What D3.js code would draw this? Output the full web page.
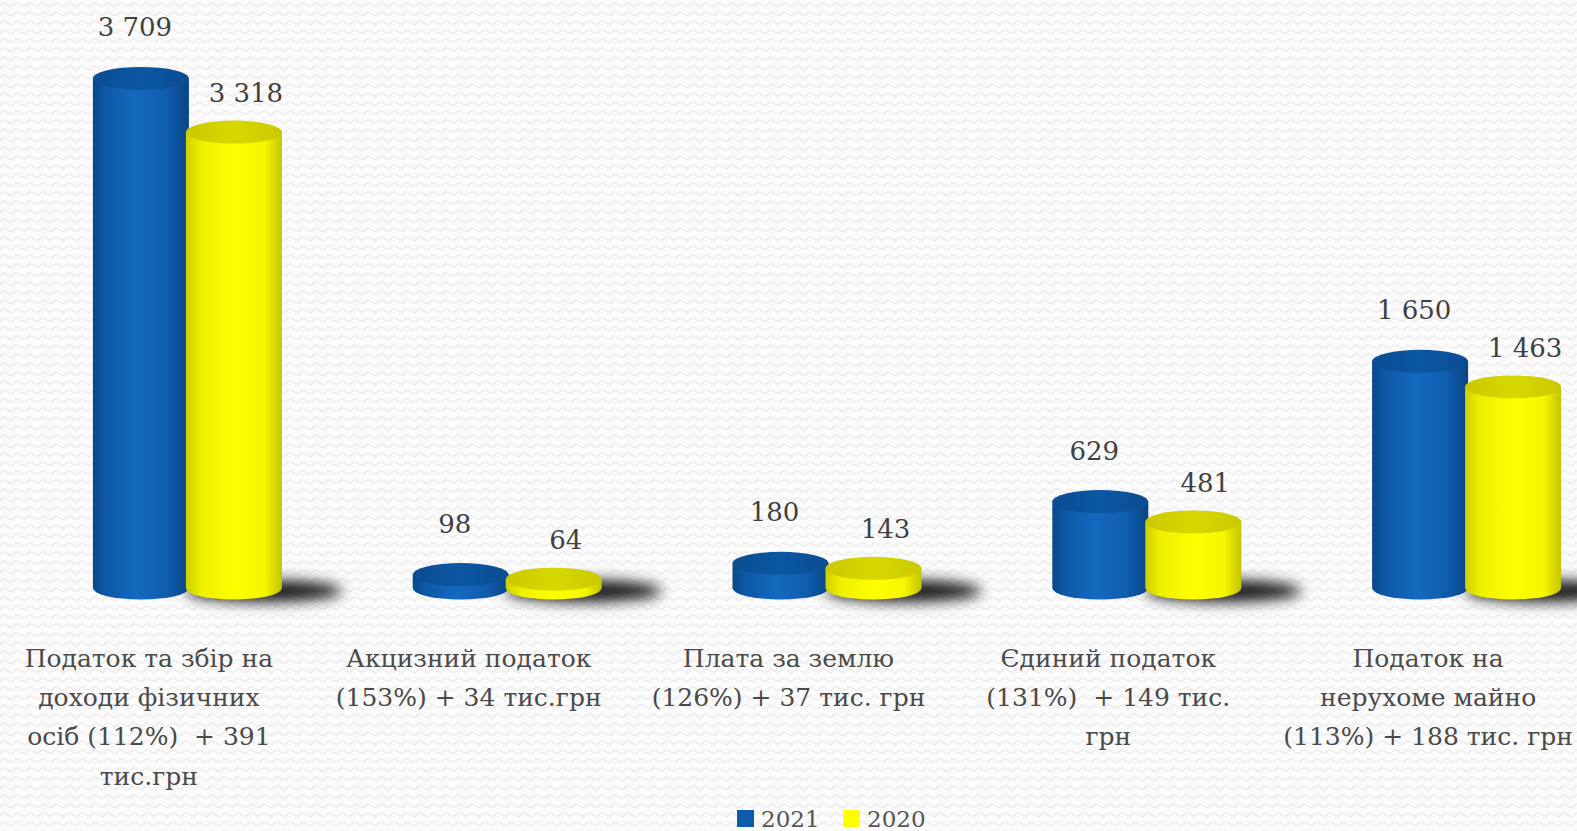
<!DOCTYPE html>
<html lang="uk">
<head>
  <meta charset="UTF-8">
  <script src="https://d3js.org/d3.v7.min.js"></script>
  <style>
    body { margin: 0; background: #fff; overflow: hidden; }
    text { font-family: 'DejaVu Serif', 'Liberation Serif', serif; }
  </style>
</head>
<body>
  <svg id="chart" width="1577" height="831"></svg>
  <script>
    // data (тис. грн)
    const categories = ['pdfo', 'akc', 'zem', 'edyn', 'mayno'];
    const categoryLabels = [
      ['Податок та збір на', 'доходи фізичних', 'осіб (112%)  + 391', 'тис.грн'],
      ['Акцизний податок', '(153%) + 34 тис.грн'],
      ['Плата за землю', '(126%) + 37 тис. грн'],
      ['Єдиний податок', '(131%)  + 149 тис.', 'грн'],
      ['Податок на', 'нерухоме майно', '(113%) + 188 тис. грн']
    ];
    const values2021 = [3709, 98, 180, 629, 1650];
    const values2020 = [3318, 64, 143, 481, 1463];
    const valueLabels2021 = ['3 709', '98', '180', '629', '1 650'];
    const valueLabels2020 = ['3 318', '64', '143', '481', '1 463'];
    const seriesNames = ['2021', '2020'];

    const svg = d3.select('#chart');
    const width = +svg.attr('width');
    const height = +svg.attr('height');
    const defs = svg.append('defs');

    // wavy background
    const pat = defs.append('pattern').attr('id', 'bg')
      .attr('patternUnits', 'userSpaceOnUse').attr('width', 13).attr('height', 9);
    pat.append('rect').attr('width', 13).attr('height', 9).attr('fill', '#fbfbfb');
    pat.append('path').attr('d', 'M0,6 Q3.25,1 6.5,4 T13,6')
      .attr('fill', 'none').attr('stroke', '#ececec').attr('stroke-width', 1.4);
    svg.append('rect').attr('width', width).attr('height', height).attr('fill', 'url(#bg)');

    function hGrad(id, stops) {
      const g = defs.append('linearGradient').attr('id', id)
        .attr('x1', '0%').attr('x2', '100%').attr('y1', '0%').attr('y2', '0%');
      stops.forEach(s => g.append('stop').attr('offset', s[0]).attr('stop-color', s[1]));
    }
    hGrad('blueBody', [['0%', '#0a4788'], ['12%', '#0d57a4'], ['45%', '#1469bf'], ['78%', '#0f5cad'], ['100%', '#0a4584']]);
    hGrad('blueTop', [['0%', '#0a4d92'], ['50%', '#0b57a2'], ['100%', '#0a4d92']]);
    hGrad('yelBody', [['0%', '#cfcf00'], ['15%', '#eeee00'], ['50%', '#ffff00'], ['82%', '#f6f600'], ['100%', '#c4c400']]);
    hGrad('yelTop', [['0%', '#c9c900'], ['50%', '#d8d800'], ['100%', '#c9c900']]);

    defs.append('filter').attr('id', 'blur').attr('x', '-50%').attr('y', '-200%')
      .attr('width', '200%').attr('height', '500%')
      .append('feGaussianBlur').attr('stdDeviation', 7);

    const x = d3.scaleBand().domain(categories).range([-11, 1588]);
    const y = d3.scaleLinear().domain([0, 4000]).range([588, 38.4]);

    const barW = 96;
    const rx = barW / 2;
    const ry = 11.5;
    const blueOff = -8;
    const yelOff = 85;

    const rows = categories.map((c, i) => ({
      cat: c,
      cx: x(c) + x.bandwidth() / 2,
      v21: values2021[i], v20: values2020[i],
      l21: valueLabels2021[i], l20: valueLabels2020[i],
      lines: categoryLabels[i]
    }));

    // shadows
    svg.append('g').selectAll('ellipse').data(rows).join('ellipse')
      .attr('cx', d => d.cx + yelOff + 30)
      .attr('cy', y(0) + 3)
      .attr('rx', 78).attr('ry', 11)
      .attr('fill', '#000').attr('opacity', 0.9)
      .attr('filter', 'url(#blur)');

    function cylinder(g, cx, v, body, top) {
      const yt = y(v), yb = y(0);
      g.append('path')
        .attr('d', `M${cx - rx},${yt} L${cx - rx},${yb} A${rx},${ry} 0 0 0 ${cx + rx},${yb} L${cx + rx},${yt} Z`)
        .attr('fill', `url(#${body})`);
      g.append('ellipse').attr('cx', cx).attr('cy', yt).attr('rx', rx).attr('ry', ry)
        .attr('fill', `url(#${top})`);
    }

    const bars = svg.append('g');
    rows.forEach(d => {
      cylinder(bars, d.cx + blueOff, d.v21, 'blueBody', 'blueTop');
      cylinder(bars, d.cx + yelOff, d.v20, 'yelBody', 'yelTop');
    });

    // value labels
    const vl = svg.append('g').attr('fill', '#404040').attr('font-size', 26).attr('text-anchor', 'middle');
    vl.selectAll('text.v21').data(rows).join('text').attr('class', 'v21')
      .attr('x', d => d.cx + blueOff - 6).attr('y', d => y(d.v21) - 42).text(d => d.l21);
    vl.selectAll('text.v20').data(rows).join('text').attr('class', 'v20')
      .attr('x', d => d.cx + yelOff + 12).attr('y', d => y(d.v20) - 30).text(d => d.l20);

    // category labels
    const cl = svg.append('g').attr('fill', '#4a4a4a').attr('font-size', 25).attr('text-anchor', 'middle');
    rows.forEach(d => {
      const t = cl.append('text').attr('xml:space', 'preserve');
      d.lines.forEach((ln, j) => {
        t.append('tspan').attr('x', d.cx).attr('y', 667 + j * 39.2).text(ln);
      });
    });

    // legend
    const leg = svg.append('g').attr('font-size', 23).attr('fill', '#555');
    const legColors = ['#0c5cab', '#ffff00'];
    seriesNames.forEach((s, i) => {
      const lx = 737 + i * 106;
      leg.append('rect').attr('x', lx).attr('y', 810).attr('width', 17).attr('height', 17).attr('fill', legColors[i]);
      leg.append('text').attr('x', lx + 24).attr('y', 827).text(s);
    });
  </script>
</body>
</html>
